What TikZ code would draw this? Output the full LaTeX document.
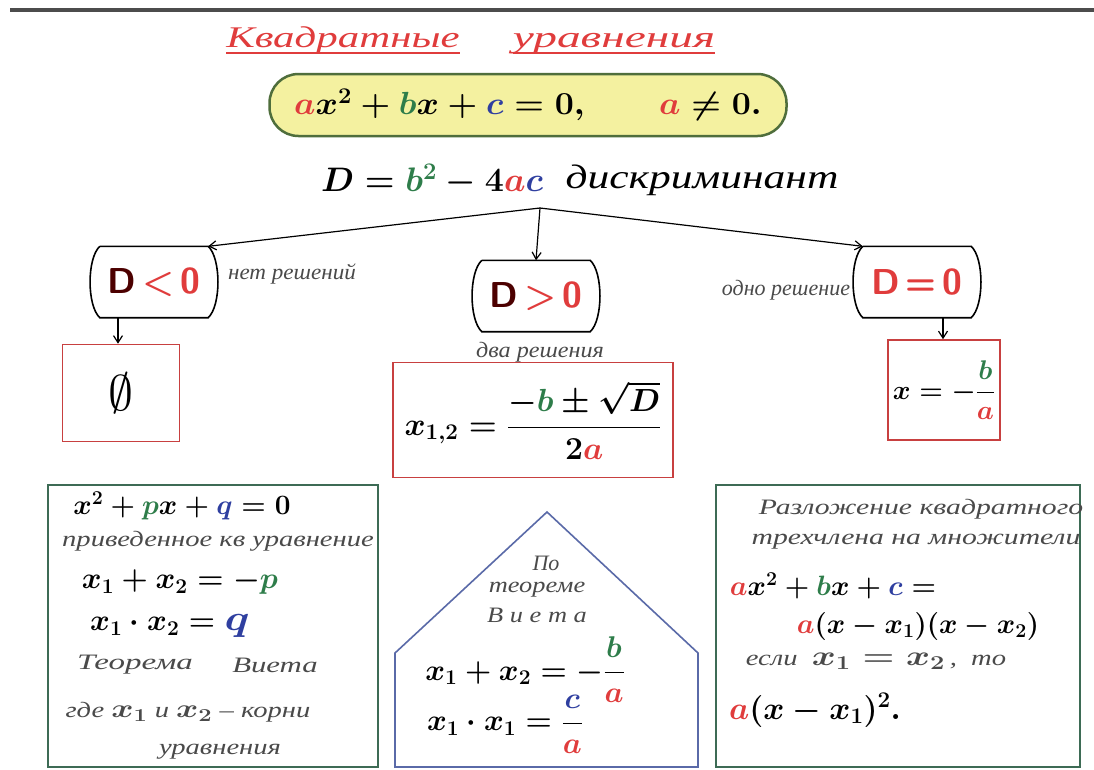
\RequirePackage{fix-cm}
\documentclass[tikz,border=0pt]{standalone}
\usepackage{amsmath}
\usepackage{fontspec}
\setmainfont{Liberation Serif}
\newfontfamily\cur{Liberation Serif}
\usetikzlibrary{arrows.meta}
\definecolor{cred}{HTML}{E03C3C}
\definecolor{cgreen}{HTML}{2E7D4A}
\definecolor{cblue}{HTML}{2F3FA0}
\definecolor{boxred}{HTML}{C84040}
\definecolor{boxgreen}{HTML}{3D6B55}
\definecolor{pentblue}{HTML}{5A6AA8}
\definecolor{ellfill}{HTML}{F4F1A0}
\definecolor{ellline}{HTML}{4F6E3C}
\definecolor{hand}{HTML}{4A4A4A}
\newcommand{\aR}{{\color{cred}a}}
\newcommand{\bG}{{\color{cgreen}b}}
\newcommand{\cB}{{\color{cblue}c}}
\newcommand{\pG}{{\color{cgreen}p}}
\newcommand{\qB}{{\color{cblue}q}}
\newcommand{\fs}[1]{\fontsize{#1}{#1}\selectfont}
\newcommand{\xs}[2]{\scalebox{#1}[1]{#2}}
\newcommand{\drawbarrel}[1]{\draw[barrelline] (#1.north west) -- (#1.north east)
  .. controls ([xshift=13pt,yshift=-12pt]#1.north east) and ([xshift=13pt,yshift=12pt]#1.south east) .. (#1.south east)
  -- (#1.south west)
  .. controls ([xshift=-13pt,yshift=12pt]#1.south west) and ([xshift=-13pt,yshift=-12pt]#1.north west) .. (#1.north west);}
\begin{document}
\begin{tikzpicture}[x=1pt,y=-1pt,
  titletext/.style={text=cred,font=\cur\itshape\fs{30},inner sep=0pt,anchor=base},
  handtext/.style={text=hand,font=\cur\itshape\fs{22},inner sep=0pt},
  formula/.style={text=black,font=\fs{30}\boldmath,inner sep=0pt},
  barrelbox/.style={minimum width=108pt,minimum height=71pt,inner sep=0pt,font=\sffamily\bfseries\fs{36}},
  barrelline/.style={black,line width=1.6pt},
  redbox/.style={draw=boxred,line width=1.6pt,inner sep=0pt},
  greenline/.style={draw=boxgreen,line width=2pt},
  arr/.style={black,line width=1.2pt,-{Straight Barb[length=7pt,width=9pt]}}]
\useasboundingbox (0,0) rectangle (1094,769);
\fill[white] (0,0) rectangle (1094,769);
\draw[line width=4pt,color=black!70] (10,10) -- (1094,10);

% title
\node[titletext] (t1) at (343,47) {\xs{1.43}{Квадратные}};
\node[titletext] (t2) at (614,47) {\xs{1.58}{уравнения}};
\draw[cred,line width=1.5pt] ([yshift=-6pt]t1.base west) -- ([yshift=-6pt]t1.base east);
\draw[cred,line width=1.5pt] ([yshift=-6pt]t2.base west) -- ([yshift=-6pt]t2.base east);

% main equation
\node[draw=ellline,fill=ellfill,line width=2.5pt,rounded corners=29pt,minimum width=517pt,minimum height=62pt,inner sep=0pt,font=\fs{32}\boldmath] (eq) at (528,105)
  {\xs{1.06}{$\aR x^2+\bG x+\cB=0,\qquad \aR\neq 0.$}};

% discriminant
\node[formula,font=\fs{34}\boldmath] (dform) at (432,180) {$D=\bG^{\color{cgreen}2}-4\aR\cB$};
\node[text=black,font=\cur\itshape\fs{34},inner sep=0pt] (disc) at (702,180) {\xs{1.28}{дискриминант}};
\coordinate (split) at (540,208);

% three cases
\node[barrelbox] (dlt) at (154,282) {{\color{black!70!red}D}{\color{cred}\,<\,0}};
\node[barrelbox] (dgt) at (536,296) {{\color{black!70!red}D}{\color{cred}\,>\,0}};
\node[barrelbox] (deq) at (917,282) {{\color{cred}D\,=\,0}};
\drawbarrel{dlt}
\drawbarrel{dgt}
\drawbarrel{deq}

\draw[arr] (split) -- (dlt.north east);
\draw[arr] (split) -- (dgt.north);
\draw[arr] (split) -- (deq.north west);

\node[handtext] (nosol) at (292,274) {\xs{1.05}{нет решений}};
\node[handtext] (twosol) at (540,352) {\xs{1.1}{два решения}};
\node[handtext] (onesol) at (786,290) {одно решение};

% answers
\node[redbox,minimum width=117pt,minimum height=97pt,font=\fs{50}] (empty) at (121,393) {$\emptyset$};
\node[redbox,minimum width=280pt,minimum height=115pt,font=\fs{32}\boldmath] (roots) at (533,420)
  {$x_{1,2}=\dfrac{-\bG\pm\sqrt{D}}{2\aR}$};
\node[redbox,minimum width=112pt,minimum height=100pt,font=\fs{27}\boldmath] (one) at (944,390)
  {$x=-\dfrac{\bG}{\aR}$};

\draw[arr] ([xshift=-36pt]dlt.south) -- ([xshift=-36pt]dlt.south |- empty.north);
\draw[arr] ([xshift=26pt]deq.south) -- ([xshift=26pt]deq.south |- one.north);

% left green box
\coordinate (lbtl) at (48,485);
\coordinate (lbbr) at (378,767);
\draw[greenline] (lbtl) rectangle (lbbr);
\node[formula,font=\fs{28}\boldmath] (l1) at (182,506) {$x^2+\pG x+\qB=0$};
\node[handtext] (l2) at (218,541) {\xs{1.3}{приведенное кв уравнение}};
\node[formula] (l3) at (180,582) {$x_1+x_2=-\pG$};
\node[formula] (l4) at (170,626) {$x_1\cdot x_2=\xs{1.2}{\fs{36}$\qB$}$};
\node[handtext] (l5a) at (135,665) {\xs{1.5}{Теорема}};
\node[handtext] (l5b) at (275,665) {\xs{1.4}{Виета}};
\node[handtext] (l6) at (188,712) {\xs{1.3}{где {\upshape\fs{26}\boldmath$x_1$} и {\upshape\fs{26}\boldmath$x_2$} – корни}};
\node[handtext] (l7) at (220,752) {\xs{1.3}{уравнения}};

% pentagon
\coordinate (pbl) at (395,767);
\coordinate (psl) at (395,653);
\coordinate (ptop) at (547,512);
\coordinate (psr) at (698,653);
\coordinate (pbr) at (698,767);
\draw[pentblue,line width=1.6pt] (pbl) -- (psl) -- (ptop) -- (psr) -- (pbr) -- cycle;
\node[handtext] (v1) at (546,563) {По};
\node[handtext] (v2) at (537,590) {\xs{1.2}{теореме}};
\node[handtext] (v3) at (537,615) {\xs{1.2}{В и е т а}};
\node[formula,font=\fs{30}\boldmath] (v4) at (525,670) {$x_1+x_2=-\dfrac{\bG}{\aR}$};
\node[formula,font=\fs{30}\boldmath] (v5) at (505,724) {$x_1\cdot x_1=\dfrac{\cB}{\aR}$};

% right green box
\coordinate (rbtl) at (716,485);
\coordinate (rbbr) at (1080,767);
\draw[greenline] (rbtl) rectangle (rbbr);
\node[handtext] (r1) at (921,509) {\xs{1.35}{Разложение квадратного}};
\node[handtext] (r2) at (916,542) {\xs{1.35}{трехчлена на множители}};
\node[formula,font=\fs{28}\boldmath] (r3) at (833,586) {$\aR x^2+\bG x+\cB=$};
\node[formula,font=\fs{28}\boldmath] (r4) at (918,626) {$\aR(x-x_1)(x-x_2)$};
\node[handtext] (r5) at (876,661) {\xs{1.3}{если \ {\upshape\fs{28}\boldmath$x_1=x_2$}\,, \ то}};
\node[formula,font=\fs{32}\boldmath] (r6) at (815,710) {$\aR(x-x_1)^2.$};
\end{tikzpicture}
\end{document}
